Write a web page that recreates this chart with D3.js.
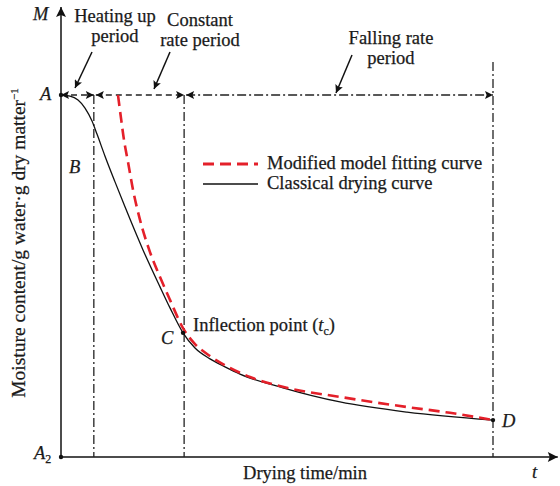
<!DOCTYPE html>
<html>
<head>
<meta charset="utf-8">
<script src="https://cdn.jsdelivr.net/npm/d3@7"></script>
<style>
  body { margin: 0; background: #fff; }
  svg text { font-family: 'Liberation Serif', serif; font-size: 18.5px; fill: #1a1a1a; stroke: #1a1a1a; stroke-width: 0.25px; }
</style>
</head>
<body>
<svg width="560" height="486"></svg>
<script>
// classical drying curve (time, moisture) - normalised units
const classicalT = [0, 2.08, 3.94, 5.56, 7.18, 8.33, 10.19, 12.5, 14.81, 18.98, 22.92, 25.23, 28.24, 31.02, 34.49, 37.96, 41.44, 51.39, 64.58, 80.09, 100];
const classicalM = [1.0, 0.997, 0.986, 0.964, 0.928, 0.892, 0.831, 0.760, 0.691, 0.572, 0.470, 0.412, 0.343, 0.301, 0.271, 0.249, 0.229, 0.191, 0.152, 0.124, 0.102];
// modified model fitting curve
const fittedT = [13.19, 13.89, 14.58, 15.51, 16.67, 18.29, 20.6, 22.92, 25.23, 28.24, 31.02, 34.49, 39.12, 43.75, 52.31, 64.58, 80.09, 90.05, 100];
const fittedM = [1.0, 0.936, 0.876, 0.815, 0.738, 0.655, 0.566, 0.497, 0.434, 0.356, 0.312, 0.279, 0.246, 0.221, 0.191, 0.166, 0.138, 0.122, 0.102];
// period boundaries on the time axis
const phaseT = [0, 7.6, 28.5, 100];
const phaseNames = [["Heating up", "period"], ["Constant", "rate period"], ["Falling rate", "period"]];
const legendNames = ["Modified model fitting curve", "Classical drying curve"];

const svg = d3.select('svg');
const x = d3.scaleLinear().domain([0, 100]).range([61, 493]);
const y = d3.scaleLinear().domain([0, 1]).range([457, 95]);
const xEnd = x(115);

const defs = svg.append('defs');
defs.append('marker')
    .attr('id', 'tri')
    .attr('viewBox', '0 0 10 10')
    .attr('refX', 10).attr('refY', 5)
    .attr('markerWidth', 9).attr('markerHeight', 8)
    .attr('markerUnits', 'userSpaceOnUse')
    .attr('orient', 'auto-start-reverse')
  .append('path')
    .attr('d', 'M0,0L10,5L0,10L2,5Z')
    .attr('fill', '#111');
defs.append('marker')
    .attr('id', 'big')
    .attr('viewBox', '0 0 10 10')
    .attr('refX', 10).attr('refY', 5)
    .attr('markerWidth', 12).attr('markerHeight', 10)
    .attr('markerUnits', 'userSpaceOnUse')
    .attr('orient', 'auto')
  .append('path')
    .attr('d', 'M0,0L10,5L0,10L2,5Z')
    .attr('fill', '#111');

// axes
svg.append('line')
    .attr('x1', x(0)).attr('y1', y(0)).attr('x2', x(0)).attr('y2', 7)
    .attr('stroke', '#111').attr('stroke-width', 1.5)
    .attr('marker-end', 'url(#big)');
svg.append('line')
    .attr('x1', x(0)).attr('y1', y(0)).attr('x2', xEnd).attr('y2', y(0))
    .attr('stroke', '#111').attr('stroke-width', 1.5)
    .attr('marker-end', 'url(#big)');

// vertical period boundaries
const dashDot = '9,3,2,3';
svg.selectAll('.vline')
  .data(phaseT.slice(1))
  .enter().append('line')
    .attr('class', 'vline')
    .attr('x1', d => x(d)).attr('x2', d => x(d))
    .attr('y1', (d, i) => i === 2 ? 62 : y(1))
    .attr('y2', y(0))
    .attr('stroke', '#222').attr('stroke-width', 1.3)
    .attr('stroke-dasharray', dashDot);

// horizontal double arrows for each period
svg.selectAll('.hline')
  .data(d3.pairs(phaseT))
  .enter().append('line')
    .attr('class', 'hline')
    .attr('x1', (d, i) => x(d[0]) + (i ? 2 : 0))
    .attr('x2', d => x(d[1]))
    .attr('y1', y(1)).attr('y2', y(1))
    .attr('stroke', '#222').attr('stroke-width', 1.3)
    .attr('stroke-dasharray', (d, i) => i === 2 ? dashDot : '6,4')
    .attr('marker-start', 'url(#tri)')
    .attr('marker-end', 'url(#tri)');

// curves
const line = d3.line()
    .x(d => x(d[0]))
    .y(d => y(d[1]))
    .curve(d3.curveMonotoneX);

svg.append('path')
    .datum(d3.zip(classicalT, classicalM))
    .attr('d', line)
    .attr('fill', 'none')
    .attr('stroke', '#111')
    .attr('stroke-width', 1.3);

svg.append('path')
    .datum(d3.zip(fittedT, fittedM))
    .attr('d', line)
    .attr('fill', 'none')
    .attr('stroke', '#e4202a')
    .attr('stroke-width', 2.6)
    .attr('stroke-dasharray', '11,6');

// key points
const keyPts = [[0, 1], [0, 0], [28.24, classicalM[12]], [100, classicalM[classicalM.length - 1]]];
svg.selectAll('.pt')
  .data(keyPts)
  .enter().append('circle')
    .attr('cx', d => x(d[0]))
    .attr('cy', d => y(d[1]))
    .attr('r', 2.2)
    .attr('fill', '#111');

// period annotations
const labelPos = [[115, 22], [200, 26], [391, 44]];
phaseNames.forEach((lines, i) => {
  const t = svg.append('text')
      .attr('x', labelPos[i][0]).attr('y', labelPos[i][1])
      .attr('text-anchor', 'middle');
  lines.forEach((s, j) => {
    t.append('tspan').attr('x', labelPos[i][0]).attr('dy', j ? 20 : 0).text(s);
  });
});
const pointers = [[92, 52, 75, 88], [170, 52, 154, 89], [352, 55, 336, 93]];
svg.selectAll('.ptr')
  .data(pointers)
  .enter().append('line')
    .attr('x1', d => d[0]).attr('y1', d => d[1])
    .attr('x2', d => d[2]).attr('y2', d => d[3])
    .attr('stroke', '#111').attr('stroke-width', 1.5)
    .attr('marker-end', 'url(#tri)');

// point letters
const ital = (tx, ty, s) => svg.append('text')
    .attr('x', tx).attr('y', ty)
    .style('font-style', 'italic')
    .text(s);
ital(33, 20, 'M');
ital(40, 100, 'A');
ital(69, 173, 'B');
ital(161, 344, 'C');
ital(502, 427, 'D');
ital(532, 478, 't');
const a2 = ital(34, 459, 'A');
a2.append('tspan').attr('dy', 4).style('font-size', '12px').style('font-style', 'normal').text('2');

// inflection label
const inf = svg.append('text').attr('x', 193).attr('y', 331);
inf.append('tspan').text('Inflection point (');
inf.append('tspan').style('font-style', 'italic').text('t');
inf.append('tspan').attr('dy', 4).style('font-size', '12px').text('c');
inf.append('tspan').attr('dy', -4).text(')');

// legend
const legend = svg.append('g').attr('transform', 'translate(203,164)');
legend.selectAll('line')
  .data(legendNames)
  .enter().append('line')
    .attr('x1', 0).attr('x2', 55)
    .attr('y1', (d, i) => i * 20).attr('y2', (d, i) => i * 20)
    .attr('stroke', (d, i) => i ? '#111' : '#e4202a')
    .attr('stroke-width', (d, i) => i ? 1.3 : 2.8)
    .attr('stroke-dasharray', (d, i) => i ? null : '11,6');
legend.selectAll('text')
  .data(legendNames)
  .enter().append('text')
    .attr('x', 64)
    .attr('y', (d, i) => i * 20 + 5)
    .text(d => d);

// axis titles
svg.append('text')
    .attr('x', 305).attr('y', 479)
    .attr('text-anchor', 'middle')
    .text('Drying time/min');

const yl = svg.append('text')
    .attr('transform', 'translate(25,243) rotate(-90)')
    .attr('text-anchor', 'middle')
    .style('font-size', '19.5px');
yl.append('tspan').text('Moisture content/g water·g dry matter');
yl.append('tspan').attr('dy', -7).style('font-size', '11px').text('−1');
</script>
</body>
</html>
